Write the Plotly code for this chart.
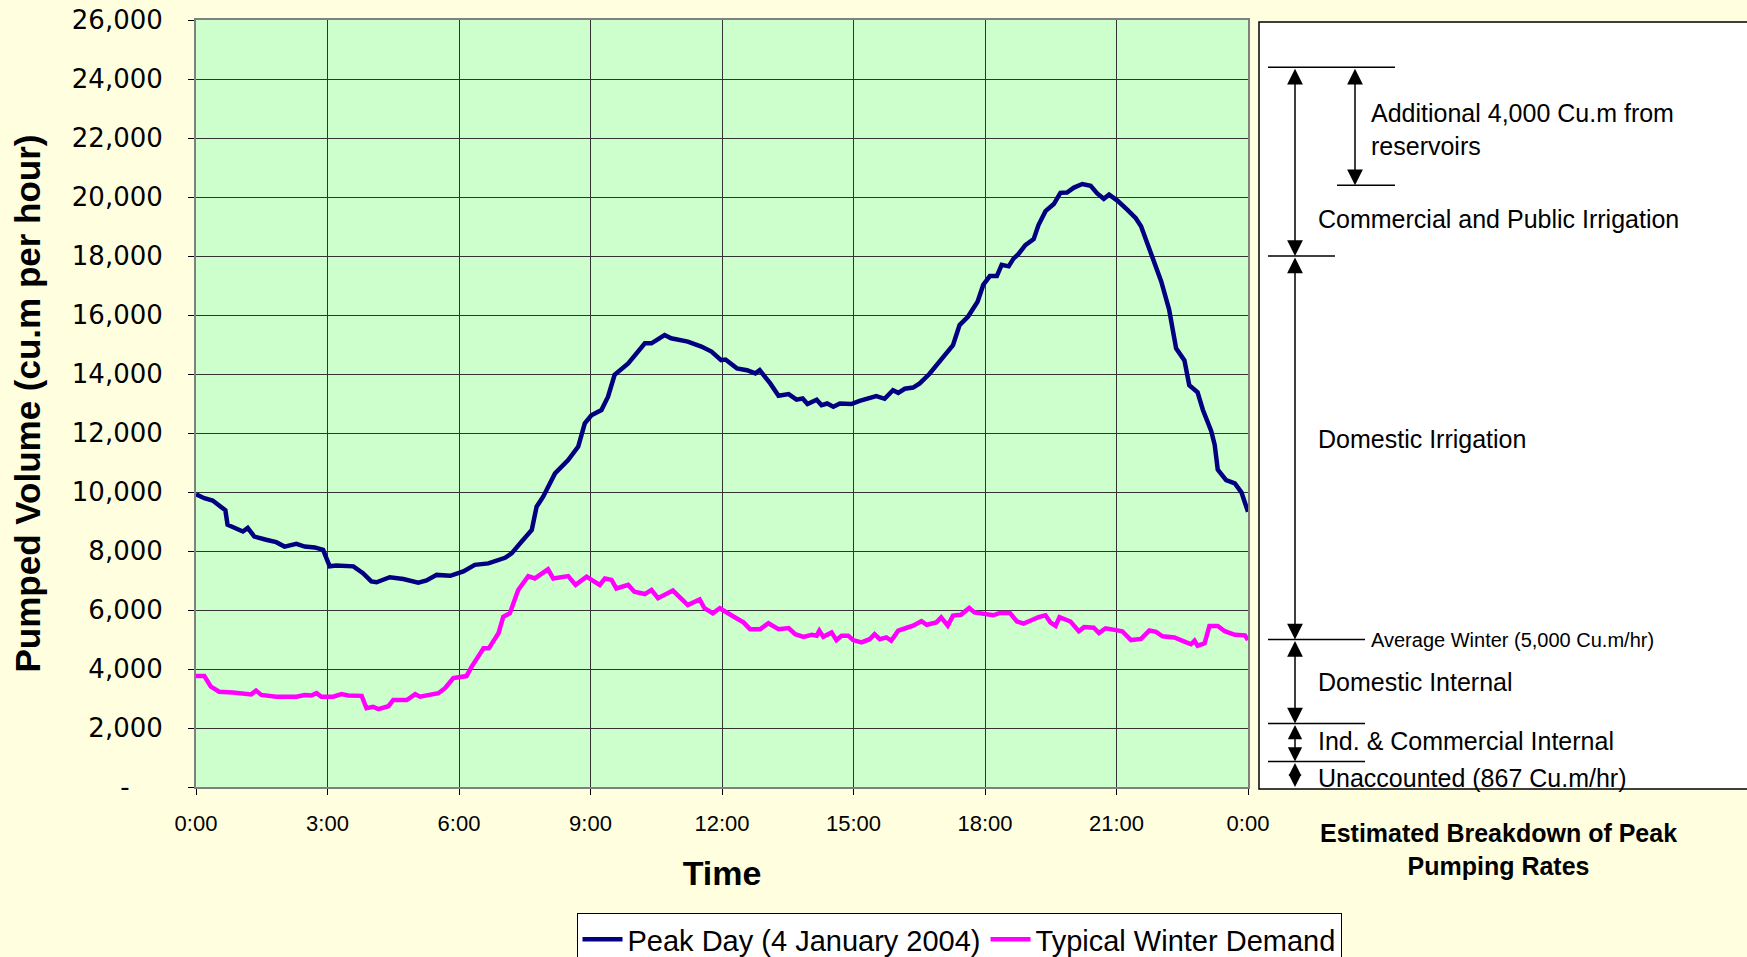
import plotly.graph_objects as go

# ---------------- data ----------------
peak_hours = [0.00, 0.19, 0.38, 0.57, 0.67, 0.72, 0.92, 1.07, 1.18, 1.33, 1.60, 1.83, 2.02, 2.29, 2.48,
              2.71, 2.90, 2.97, 3.05, 3.20, 3.59, 3.81, 4.00, 4.12, 4.42, 4.73, 5.07, 5.26, 5.49, 5.80,
              6.10, 6.36, 6.67, 7.05, 7.20, 7.43, 7.66, 7.77, 7.92, 8.19, 8.49, 8.72, 8.87, 9.02, 9.25,
              9.40, 9.55, 9.86, 10.00, 10.24, 10.39, 10.69, 10.84, 11.22, 11.53, 11.76, 11.98, 12.08,
              12.34, 12.57, 12.76, 12.86, 13.10, 13.29, 13.52, 13.70, 13.84, 13.95, 14.16, 14.27, 14.40,
              14.54, 14.69, 14.95, 15.14, 15.41, 15.52, 15.71, 15.90, 16.02, 16.17, 16.36, 16.51, 16.73,
              16.96, 17.27, 17.42, 17.61, 17.83, 17.96, 18.11, 18.27, 18.38, 18.54, 18.65, 18.76, 18.92,
              19.11, 19.22, 19.38, 19.57, 19.72, 19.87, 20.03, 20.22, 20.41, 20.56, 20.71, 20.83, 21.02,
              21.25, 21.44, 21.56, 21.71, 21.90, 22.02, 22.20, 22.36, 22.55, 22.66, 22.85, 22.97, 23.16,
              23.24, 23.31, 23.50, 23.70, 23.85, 24.00]
peak_values = [9920, 9790, 9710, 9510, 9380, 8890, 8740, 8660, 8780, 8490, 8380, 8300, 8150, 8240, 8150,
               8120, 8040, 7810, 7480, 7510, 7480, 7250, 6970, 6940, 7110, 7050, 6930, 7000, 7190, 7160,
               7310, 7530, 7580, 7770, 7920, 8320, 8710, 9500, 9840, 10630, 11080, 11540, 12330, 12600, 12780,
               13230, 13970, 14360, 14590, 15040, 15040, 15320, 15210, 15100, 14930, 14760, 14470, 14490,
               14190, 14130, 14020, 14130, 13680, 13260, 13320, 13130, 13170, 12980, 13130, 12940, 13000,
               12890, 13000, 12980, 13090, 13200, 13250, 13160, 13450, 13360, 13500, 13540, 13680, 14000,
               14410, 14980, 15660, 15940, 16450, 17020, 17320, 17320, 17700, 17650, 17910, 18060, 18370,
               18570, 19050, 19520, 19760, 20140, 20150, 20320, 20440, 20380, 20120, 19940, 20080, 19880,
               19560, 19280, 19010, 18390, 17680, 17140, 16190, 14870, 14460, 13620, 13380, 12790, 12070,
               11600, 10760, 10400, 10290, 9990, 9330]

winter_hours = [0.00, 0.19, 0.34, 0.53, 0.84, 1.26, 1.37, 1.49, 1.83, 2.29, 2.48, 2.63, 2.75, 2.86, 3.13,
                3.32, 3.47, 3.78, 3.89, 4.04, 4.16, 4.39, 4.50, 4.81, 5.00, 5.11, 5.53, 5.68, 5.87, 6.03,
                6.17, 6.29, 6.44, 6.56, 6.68, 6.90, 7.01, 7.16, 7.35, 7.58, 7.73, 7.92, 8.03, 8.15, 8.49,
                8.66, 8.91, 9.21, 9.33, 9.48, 9.59, 9.86, 10.00, 10.24, 10.39, 10.54, 10.88, 11.22, 11.49,
                11.60, 11.79, 11.95, 12.17, 12.27, 12.49, 12.64, 12.87, 13.06, 13.29, 13.52, 13.67, 13.86,
                14.05, 14.16, 14.22, 14.31, 14.50, 14.61, 14.73, 14.88, 14.99, 15.18, 15.37, 15.48, 15.60,
                15.75, 15.86, 16.02, 16.20, 16.36, 16.55, 16.67, 16.89, 17.00, 17.15, 17.27, 17.45, 17.64,
                17.76, 18.02, 18.19, 18.34, 18.57, 18.73, 18.88, 19.07, 19.22, 19.38, 19.49, 19.61, 19.70,
                19.95, 20.14, 20.26, 20.48, 20.60, 20.75, 21.02, 21.13, 21.33, 21.56, 21.75, 21.90, 22.05,
                22.32, 22.55, 22.70, 22.78, 22.85, 23.01, 23.12, 23.31, 23.47, 23.70, 23.93, 24.00]
winter_values = [3760, 3760, 3400, 3230, 3200, 3140, 3270, 3120, 3060, 3060, 3120, 3100, 3180, 3060, 3060,
                 3150, 3100, 3090, 2670, 2720, 2640, 2740, 2950, 2950, 3150, 3060, 3180, 3350, 3690, 3740,
                 3760, 4080, 4420, 4700, 4700, 5210, 5770, 5890, 6680, 7150, 7070, 7240, 7380, 7070, 7150,
                 6850, 7130, 6850, 7070, 7020, 6730, 6850, 6620, 6540, 6680, 6400, 6660, 6170, 6360,
                 6060, 5890, 6060, 5830, 5770, 5580, 5350, 5350, 5550, 5350, 5390, 5180, 5090,
                 5160, 5130, 5300, 5090, 5240, 4980, 5130, 5130, 4980, 4900, 5010, 5180, 5010,
                 5070, 4960, 5300, 5390, 5470, 5620, 5500, 5580, 5750, 5470, 5810, 5840, 6070,
                 5920, 5860, 5820, 5900, 5900, 5610, 5540, 5660, 5760, 5820, 5580, 5460, 5760,
                 5610, 5280, 5420, 5400, 5220, 5380, 5310, 5280, 4980, 5020, 5310, 5260, 5110,
                 5070, 4930, 4840, 4960, 4790, 4870, 5460, 5460, 5280, 5160, 5140, 4980]

x_tick_values = [0, 3, 6, 9, 12, 15, 18, 21, 24]
x_tick_labels = ["0:00", "3:00", "6:00", "9:00", "12:00", "15:00", "18:00", "21:00", "0:00"]
y_tick_values = [0, 2000, 4000, 6000, 8000, 10000, 12000, 14000, 16000, 18000, 20000, 22000, 24000, 26000]
y_tick_labels = ["-\u00a0\u00a0\u00a0\u00a0", "2,000", "4,000", "6,000", "8,000", "10,000", "12,000",
                 "14,000", "16,000", "18,000", "20,000", "22,000", "24,000", "26,000"]

# breakdown levels (cu.m/hr) for the right-hand panel
level_top = 24400
level_peak = 20400
level_irrig = 18000
level_winter = 5000
level_ind = 2150
level_unacc = 867
level_zero = 0
label_additional = "Additional 4,000 Cu.m from<br>reservoirs"
label_commercial = "Commercial and Public Irrigation"
label_domestic_irr = "Domestic Irrigation"
label_winter = "Average Winter (5,000 Cu.m/hr)"
label_domestic_int = "Domestic Internal"
label_ind = "Ind. &amp; Commercial Internal"
label_unacc = "Unaccounted (867 Cu.m/hr)"

# ---------------- layout geometry (pixels) ----------------
W, H = 1747, 957
PL, PR, PT, PB = 196, 1248, 20, 787
FONT = "Liberation Sans, Arial, sans-serif"


def xp(px):
    return (px - PL) / (PR - PL)


def yp(py):
    return (PB - py) / (PB - PT)


fig = go.Figure()
fig.add_trace(go.Scatter(x=peak_hours, y=peak_values, mode="lines",
                         name="Peak Day (4 January 2004)",
                         line=dict(color="#000080", width=4.5)))
fig.add_trace(go.Scatter(x=winter_hours, y=winter_values, mode="lines",
                         name="Typical Winter Demand",
                         line=dict(color="#FF00FF", width=4.5)))

fig.update_layout(
    width=W, height=H, autosize=False,
    margin=dict(l=PL, r=W - PR, t=PT, b=H - PB, autoexpand=False),
    paper_bgcolor="#FFFFE0",
    plot_bgcolor="#CCFFCC",
    template="none",
    font=dict(family=FONT, color="black"),
    showlegend=True,
    legend=dict(orientation="h", x=xp(959), xanchor="center", y=yp(913), yanchor="top",
                bgcolor="white", bordercolor="black", borderwidth=1,
                font=dict(family=FONT, size=29, color="black"),
                itemwidth=40, tracegroupgap=0),
    xaxis=dict(range=[0, 24], tickvals=x_tick_values, ticktext=x_tick_labels,
               showgrid=True, gridcolor="#333333", gridwidth=1,
               showline=True, linecolor="#808080", linewidth=2, mirror=True,
               ticks="outside", ticklen=6, tickcolor="black",
               tickfont=dict(family=FONT, size=22, color="black"),
               ticklabelstandoff=10, zeroline=False,
               title=dict(text="<b>Time</b>", font=dict(family=FONT, size=34, color="black"), standoff=26)),
    yaxis=dict(range=[0, 26000], tickvals=y_tick_values, ticktext=y_tick_labels,
               showgrid=True, gridcolor="#333333", gridwidth=1,
               showline=True, linecolor="#808080", linewidth=2, mirror=True,
               ticks="outside", ticklen=6, tickcolor="black",
               tickfont=dict(family="DejaVu Sans", size=26, color="black"),
               ticklabelstandoff=20, zeroline=False,
               title=dict(text="<b>Pumped Volume (cu.m per hour)</b>",
                          font=dict(family=FONT, size=35, color="black"), standoff=21)),
)

# right-hand white panel
fig.add_shape(type="rect", xref="paper", yref="paper", x0=xp(1259), x1=xp(1765),
              y0=yp(789), y1=yp(22), line=dict(color="black", width=1.5), fillcolor="white", layer="below")

# horizontal level lines
for lvl, x0, x1 in [(level_top, 1268, 1395), (level_peak, 1337, 1395), (level_irrig, 1268, 1335),
                    (level_winter, 1268, 1365), (level_ind, 1268, 1365), (level_unacc, 1268, 1365)]:
    fig.add_shape(type="line", xref="paper", yref="y", x0=xp(x0), x1=xp(x1), y0=lvl, y1=lvl,
                  line=dict(color="black", width=1.5))


def v_arrow(xpx, y_low, y_high, size=2.1):
    fig.add_annotation(x=xp(xpx), y=y_low, xref="paper", yref="y",
                       ax=0, ay=y_high, axref="pixel", ayref="y", text="", showarrow=True,
                       arrowside="end+start", arrowhead=2, startarrowhead=2,
                       arrowsize=size, startarrowsize=size, arrowwidth=1.5, arrowcolor="black")


v_arrow(1295, level_irrig, level_top)
v_arrow(1295, level_winter, level_irrig)
v_arrow(1295, level_ind, level_winter)
v_arrow(1295, level_unacc, level_ind, size=1.9)
v_arrow(1295, level_zero, level_unacc, size=1.7)
v_arrow(1355, level_peak, level_top)


def label(text, xpx, yval, size=25):
    fig.add_annotation(x=xp(xpx), y=yval, xref="paper", yref="y", text=text, showarrow=False,
                       xanchor="left", yanchor="middle", align="left",
                       font=dict(family=FONT, size=size, color="black"))


label(label_additional, 1369, (level_top + level_peak) / 2 - 100)
label(label_commercial, 1316, (level_peak + level_irrig) / 2 + 50)
label(label_domestic_irr, 1316, 11800)
label(label_winter, 1369, level_winter, size=20)
label(label_domestic_int, 1316, (level_winter + level_ind) / 2)
label(label_ind, 1316, (level_ind + level_unacc) / 2 + 60)
label(label_unacc, 1316, 320)

fig.add_annotation(x=xp(1498), y=yp(849), xref="paper", yref="paper",
                   text="<b>Estimated Breakdown of Peak<br>Pumping Rates</b>", showarrow=False,
                   xanchor="center", yanchor="middle", align="center",
                   font=dict(family=FONT, size=25, color="black"))

fig.write_html("out.html", config={"displayModeBar": False},
               post_script="document.body.style.margin='0px';"
                           "document.documentElement.style.overflow='hidden';")
